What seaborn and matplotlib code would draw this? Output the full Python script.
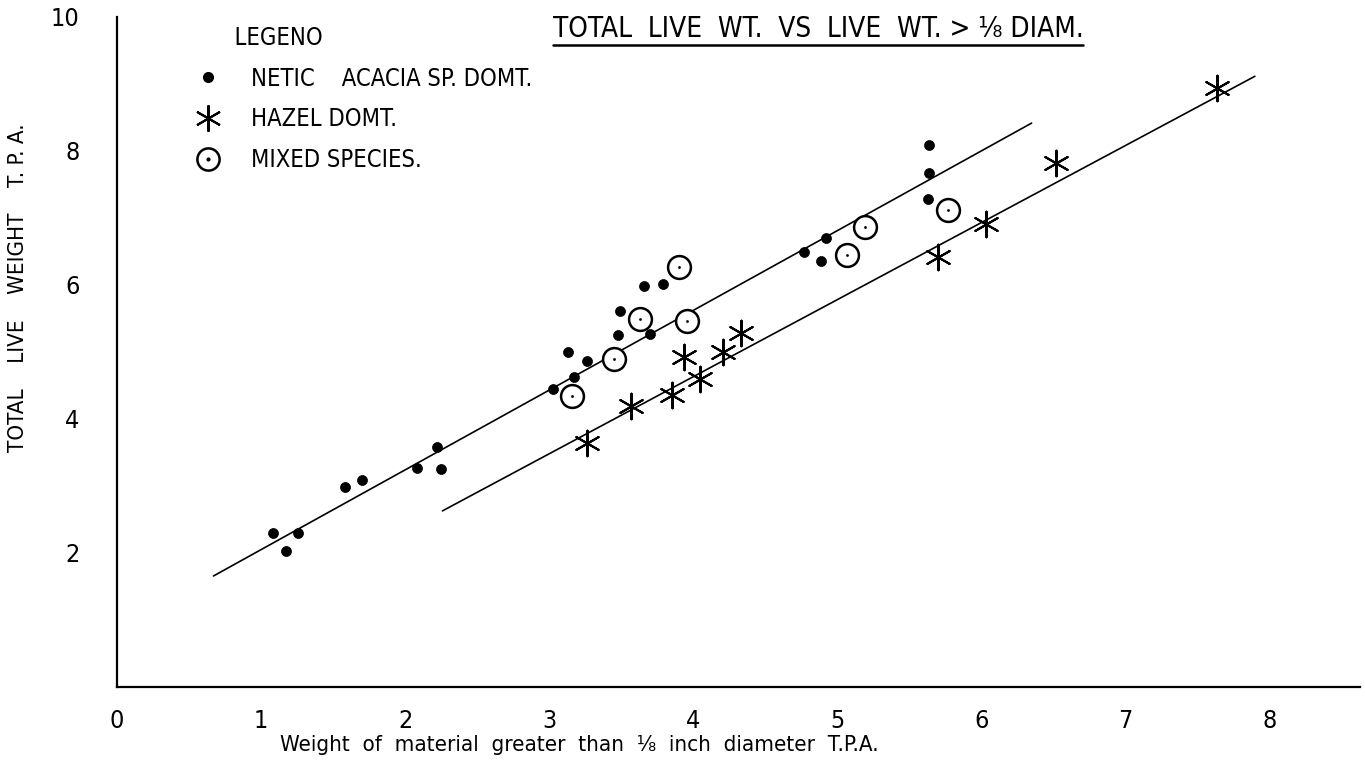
import numpy as np
import pandas as pd
import matplotlib
matplotlib.use("Agg")
import matplotlib.pyplot as plt
import seaborn as sns
from matplotlib.lines import Line2D

# values
acacia_x = [1.08, 1.26, 1.17, 1.58, 1.70, 2.08, 2.22, 2.25, 3.03, 3.17, 3.13, 3.26,
            3.48, 3.49, 3.70, 3.66, 3.79, 4.77, 4.92, 4.89, 5.64, 5.64, 5.63]
acacia_y = [2.30, 2.30, 2.03, 2.99, 3.09, 3.27, 3.58, 3.25, 4.45, 4.63, 5.00, 4.87,
            5.25, 5.61, 5.27, 5.99, 6.01, 6.49, 6.70, 6.36, 8.09, 7.67, 7.28]

hazel_x = [3.26, 3.57, 3.85, 3.94, 4.05, 4.21, 4.33, 5.70, 6.03, 6.52, 7.64]
hazel_y = [3.64, 4.19, 4.36, 4.93, 4.60, 5.00, 5.28, 6.42, 6.91, 7.82, 8.94]

mixed_x = [3.16, 3.45, 3.63, 3.96, 3.90, 5.07, 5.19, 5.77]
mixed_y = [4.34, 4.90, 5.49, 5.46, 6.27, 6.45, 6.87, 7.12]

# hand-drawn fit lines: x range, intercept, slope
fit_names = ["acacia", "hazel"]
fit_x_start = [0.67, 2.26]
fit_x_end = [6.35, 7.90]
fit_intercept = [0.86, 0.03]
fit_slope = [1.19, 1.15]

x_ticks = [0, 1, 2, 3, 4, 5, 6, 7, 8]
y_ticks = [2, 4, 6, 8, 10]

sns.set_style("white")
plt.rcParams["font.family"] = ["DejaVu Sans"]
plt.rcParams["font.stretch"] = "condensed"
plt.rcParams["text.color"] = "black"
plt.rcParams["axes.labelcolor"] = "black"
plt.rcParams["xtick.color"] = "black"
plt.rcParams["ytick.color"] = "black"

fig = plt.figure(figsize=(13.65, 7.63), dpi=100)
ax = fig.add_axes([117 / 1365, 76 / 763, 1243 / 1365, 670 / 763])

acacia = pd.DataFrame({"x": acacia_x, "y": acacia_y})
hazel = pd.DataFrame({"x": hazel_x, "y": hazel_y})
mixed = pd.DataFrame({"x": mixed_x, "y": mixed_y})

# fit lines
for name, x0, x1, b0, b1 in zip(fit_names, fit_x_start, fit_x_end, fit_intercept, fit_slope):
    xs = np.array([x0, x1])
    line = pd.DataFrame({"x": xs, "y": b0 + b1 * xs})
    sns.lineplot(data=line, x="x", y="y", ax=ax, color="black", linewidth=1.2)

sns.scatterplot(data=acacia, x="x", y="y", ax=ax, color="black", s=52,
                marker="o", edgecolor="black", linewidth=0.5, zorder=3)
sns.scatterplot(data=hazel, x="x", y="y", ax=ax, color="black", s=340,
                marker=(6, 2, 0), linewidth=1.5, zorder=3)
sns.scatterplot(data=mixed, x="x", y="y", ax=ax, s=270, marker="o",
                facecolor="white", edgecolor="black", linewidth=1.8, zorder=3)
sns.scatterplot(data=mixed, x="x", y="y", ax=ax, color="black", s=4,
                marker="o", linewidth=0, zorder=4)

ax.set_xlim(0, 8.63)
ax.set_ylim(0, 10)
ax.set_xticks(x_ticks)
ax.set_yticks(y_ticks)
ax.set_xticklabels([str(t) for t in x_ticks], fontsize=18)
ax.set_yticklabels([str(t) for t in y_ticks], fontsize=18)
ax.tick_params(axis="x", direction="inout", length=7, width=1, pad=12)
ax.tick_params(axis="y", direction="out", length=7, width=1, pad=20)

for side in ["top", "right"]:
    ax.spines[side].set_visible(False)
for side in ["left", "bottom"]:
    ax.spines[side].set_color("black")
    ax.spines[side].set_linewidth(1.6)

ax.set_xlabel("Weight  of  material  greater  than  \u215b  inch  diameter  T.P.A.", fontsize=16)
ax.xaxis.set_label_coords(0.372, -0.072)
ax.set_ylabel("TOTAL    LIVE    WEIGHT    T. P. A.", fontsize=16)
ax.yaxis.set_label_coords(-0.0716, 0.596)

title = ax.text(0.564, 0.982, "TOTAL  LIVE  WT.  VS  LIVE  WT. > \u215b DIAM.",
                transform=ax.transAxes, ha="center", va="center", fontsize=20)

# legend
handles = [
    Line2D([], [], linestyle="none", marker="o", color="black", markersize=7),
    Line2D([], [], linestyle="none", marker=(6, 2, 0), color="black",
           markersize=19, markeredgewidth=1.5),
    (Line2D([], [], linestyle="none", marker="o", markerfacecolor="white",
            markeredgecolor="black", markersize=16, markeredgewidth=1.8),
     Line2D([], [], linestyle="none", marker="o", color="black", markersize=2)),
]
labels = ["NETIC    ACACIA SP. DOMT.", "HAZEL DOMT.", "MIXED SPECIES."]
leg = ax.legend(handles, labels, title="      LEGENO", loc="upper left",
                bbox_to_anchor=(0.045, 1.018), frameon=False, fontsize=17,
                title_fontsize=17, handletextpad=1.2, labelspacing=0.7,
                handlelength=1.2, alignment="left")

# underline the title
fig.canvas.draw()
bb = title.get_window_extent().transformed(fig.transFigure.inverted())
fig.add_artist(Line2D([bb.x0, bb.x1], [bb.y0 - 0.003, bb.y0 - 0.003],
                      transform=fig.transFigure, color="black", linewidth=1.8))

fig.savefig("out.png", dpi=100)
